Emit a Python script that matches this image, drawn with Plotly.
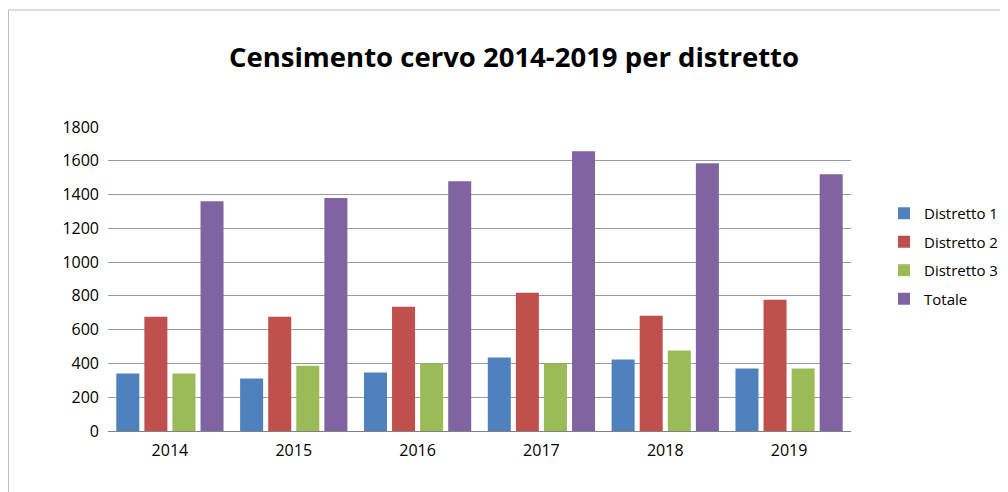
import plotly.graph_objects as go

years = ["2014", "2015", "2016", "2017", "2018", "2019"]
distretto1 = [340, 311, 346, 435, 423, 370]
distretto2 = [677, 677, 736, 818, 683, 777]
distretto3 = [340, 387, 399, 399, 476, 370]
totale = [1361, 1379, 1479, 1656, 1585, 1520]

series_names = ["Distretto 1", "Distretto 2", "Distretto 3", "Totale"]
series_values = [distretto1, distretto2, distretto3, totale]
colors = ["#4F81BD", "#C0504D", "#9BBB59", "#8064A2"]

FONT = "Open Sans"

fig = go.Figure()
for name, vals, col in zip(series_names, series_values, colors):
    fig.add_trace(go.Bar(x=years, y=vals, name=name, legendgroup=name,
                         marker=dict(color=col, line=dict(width=0))))

# page has an 8px body margin: work in figure coords = page coords - 8
OFF = 8
W, H = 1008, 492
L = 108 - OFF
T = 127 - OFF
R = W - (851 - OFF)
B = H - (431 - OFF)
PW = W - L - R
PH = H - T - B

fig.update_layout(
    width=W, height=H,
    margin=dict(l=L, r=R, t=T, b=B, autoexpand=False),
    paper_bgcolor="white", plot_bgcolor="white",
    barmode="group", bargap=0.093, bargroupgap=0.18,
    font=dict(family=FONT, size=15, color="#000000"),
    title=dict(text="<b>Censimento cervo 2014-2019 per distretto</b>",
               x=(514 - OFF) / W, xanchor="center", xref="container",
               y=1 - (57 - OFF) / H, yanchor="middle", yref="container",
               font=dict(family=FONT, size=27.5, color="#000000")),
    legend=dict(x=(884 - OFF - L) / PW, xanchor="left",
                y=(H - B - (197 - OFF)) / PH, yanchor="top",
                font=dict(family=FONT, size=15),
                itemwidth=30, tracegroupgap=6, traceorder="grouped"),
    xaxis=dict(showgrid=False, showline=True, linecolor="#808080", linewidth=1,
               ticks="", tickfont=dict(family=FONT, size=16), ticklabelstandoff=5),
    yaxis=dict(range=[0, 1800], dtick=200, showgrid=True, gridcolor="#9a9a9a", gridwidth=1,
               zeroline=False, showline=False, ticks="",
               tickfont=dict(family=FONT, size=16), ticklabelstandoff=8),
    shapes=[dict(type="rect", xref="paper", yref="paper",
                 x0=(0.5 - L) / PW, x1=(W + 20 - L) / PW,
                 y0=-(B + 20) / PH, y1=1 + (T - (10 - OFF)) / PH,
                 line=dict(color="#BFBFBF", width=1), layer="below")],
)

fig.write_html("out.html")
